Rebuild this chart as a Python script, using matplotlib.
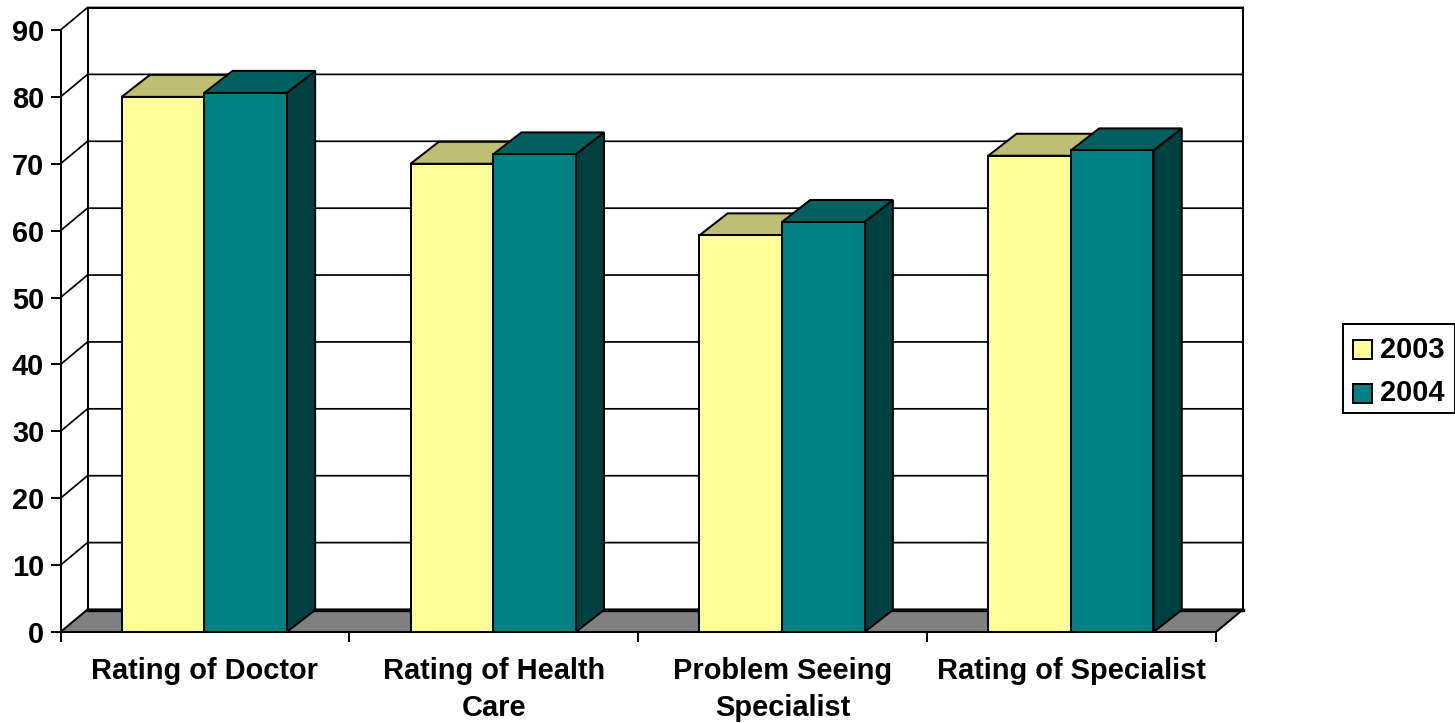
import matplotlib
matplotlib.use('Agg')
import matplotlib.pyplot as plt
from matplotlib.patches import Polygon, Rectangle

categories = ['Rating of Doctor', 'Rating of Health\nCare', 'Problem Seeing\nSpecialist', 'Rating of Specialist']
series_names = ['2003', '2004']
series_2003 = [80.0, 70.0, 59.3, 71.2]
series_2004 = [80.6, 71.4, 61.3, 72.0]
value_ticks = [0, 10, 20, 30, 40, 50, 60, 70, 80, 90]

W, H = 1455, 723
plt.rcParams['font.family'] = ['Liberation Sans', 'DejaVu Sans']
plt.rcParams['font.weight'] = 'bold'

fig = plt.figure(figsize=(W / 100, H / 100), dpi=100, facecolor='white')
# axes box is the front plane of the 3d frame
left, right, top, bottom = 60.5, 1216, 30, 632
ax = fig.add_axes([left / W, 1 - bottom / H, (right - left) / W, (bottom - top) / H])
ax.set_xlim(0, len(categories))
ax.set_ylim(0, 90)

px_x = len(categories) / (right - left)
px_y = 90 / (bottom - top)
wall_dx, wall_dy = 27 * px_x, 22.5 * px_y
bar_dx, bar_dy = 28.3 * px_x, 22 * px_y
LW = 1.45
FS = 20.9

n = len(categories)
# floor and back wall
ax.add_patch(Polygon([(0, 0), (n, 0), (n + wall_dx, wall_dy), (wall_dx, wall_dy)],
                     fc='#808080', ec='black', lw=LW, clip_on=False, zorder=1))
ax.plot([wall_dx, n + wall_dx], [wall_dy, wall_dy], color='black', lw=2.4, clip_on=False, zorder=1.5)
for v in value_ticks[1:]:
    ax.plot([0, wall_dx, n + wall_dx], [v, v + wall_dy, v + wall_dy], color='black',
            lw=1.25, clip_on=False, zorder=1)
ax.plot([wall_dx, wall_dx], [wall_dy, 90 + wall_dy], color='black', lw=LW, clip_on=False, zorder=1)
ax.plot([n + wall_dx, n + wall_dx], [wall_dy, 90 + wall_dy], color='black', lw=LW, clip_on=False, zorder=1)
ax.plot([wall_dx, n + wall_dx], [90 + wall_dy, 90 + wall_dy], color='black', lw=LW, clip_on=False, zorder=1)


def draw_bar(x0, width, value, front, top_col, side_col, z):
    x1 = x0 + width
    ax.add_patch(Polygon([(x1, 0), (x1 + bar_dx, bar_dy), (x1 + bar_dx, value + bar_dy), (x1, value)],
                         fc=side_col, ec='black', lw=LW, zorder=z, clip_on=False))
    ax.add_patch(Polygon([(x0, value), (x0 + bar_dx, value + bar_dy), (x1 + bar_dx, value + bar_dy), (x1, value)],
                         fc=top_col, ec='black', lw=LW, zorder=z, clip_on=False))
    ax.add_patch(Polygon([(x0, 0), (x1, 0), (x1, value), (x0, value)],
                         fc=front, ec='black', lw=LW, zorder=z + 0.1, clip_on=False))


bar_w = 82.6 / 288.9
pad = (1 - 2 * 82 / 288.9) / 2 - 1.3 * px_x
for i in range(n):
    draw_bar(i + pad, bar_w, series_2003[i], '#FFFF99', '#BFBF73', '#808060', 2)
    draw_bar(i + pad + bar_w, bar_w, series_2004[i], '#008080', '#006060', '#004040', 3)

ax.patch.set_visible(False)
for s in ['top', 'right']:
    ax.spines[s].set_visible(False)
for s in ['left', 'bottom']:
    ax.spines[s].set_linewidth(LW)
    ax.spines[s].set_zorder(5)

ax.set_yticks(value_ticks)
ax.tick_params(axis='y', length=7.2, width=LW, labelsize=FS, pad=4.5)
ax.set_xticks(range(n + 1))
ax.set_xticklabels([])
ax.tick_params(axis='x', which='major', length=7.2, width=LW)
ax.set_xticks([i + 0.5 for i in range(n)], minor=True)
ax.set_xticklabels(categories, minor=True, fontsize=FS, linespacing=1.43)
ax.tick_params(axis='x', which='minor', length=0, pad=18)

# legend box, drawn by hand so the rows sit where they should
fig.add_artist(Rectangle((1343 / W, 1 - 413 / H), 112 / W, 89 / H, transform=fig.transFigure,
                         fc='white', ec='black', lw=LW))
legend_colors = ['#FFFF99', '#008080']
for name, col, y in zip(series_names, legend_colors, [349.5, 393.5]):
    fig.add_artist(Rectangle((1353 / W, 1 - (y + 9.5) / H), 19 / W, 19 / H, transform=fig.transFigure,
                             fc=col, ec='black', lw=LW))
    fig.text(1380 / W, 1 - y / H, name, fontsize=FS, va='center', ha='left')

fig.savefig('out.png', dpi=100)
